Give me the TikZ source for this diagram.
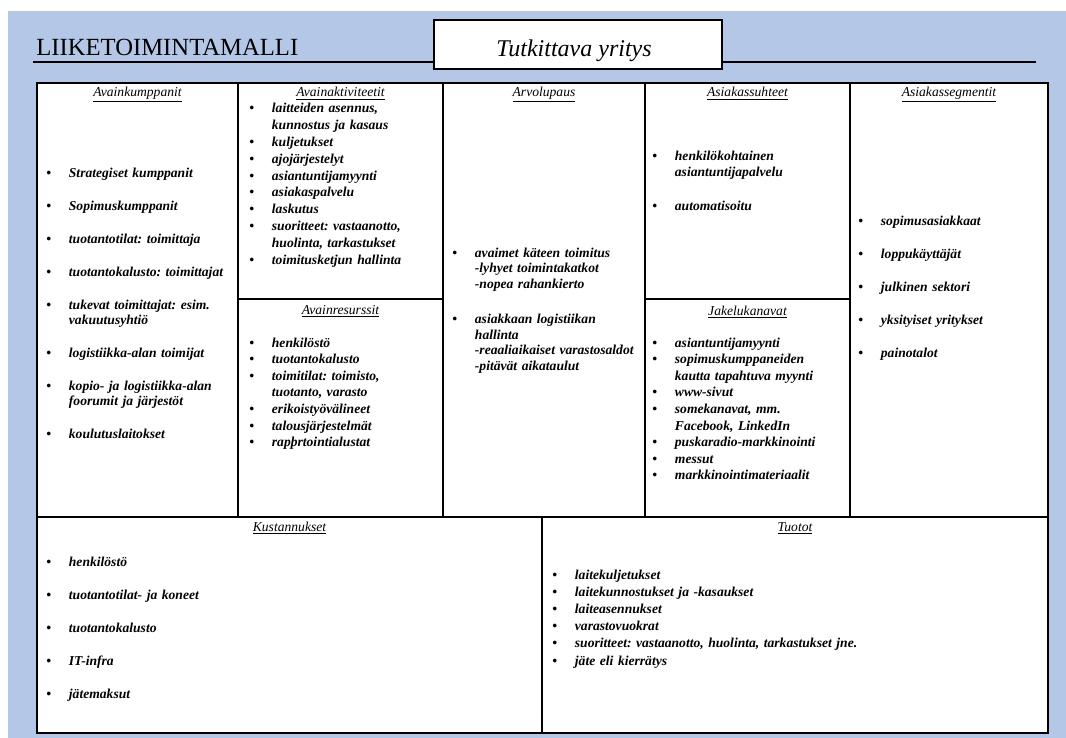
\documentclass[tikz,border=0pt]{standalone}
\usepackage{fontspec}
\setmainfont{Liberation Serif}
\definecolor{bgblue}{RGB}{180,199,231}
\newcommand\bl{\makebox[17pt][l]{\textbullet}}
\newcommand\ind{\hspace*{17pt}}
\frenchspacing
\begin{document}
\begin{tikzpicture}[x=0.75pt,y=-0.75pt,
  frame/.style={line width=1.4pt},
  hdr/.style={anchor=base, inner sep=0pt, font=\fontsize{10.2}{12}\selectfont\itshape\frenchspacing},
  lst/.style={anchor=base west, inner sep=0pt, align=left, text width=260pt,
    font=\fontsize{10.2}{#1}\selectfont\bfseries\itshape\frenchspacing},
]
\useasboundingbox (0,0) rectangle (1066,738);
\fill[bgblue] (8,11) rectangle (1066,738);

% title
\node[anchor=base west, inner sep=0pt, font=\fontsize{18.5}{21}\selectfont] (title) at (36,56) {LIIKETOIMINTAMALLI};
\coordinate (tl) at (33,62);
\coordinate (tr) at (1036,62);
\draw[line width=0.8pt] (tl) -- (tr);
\node[draw, fill=white, line width=0.8pt, minimum width=288*0.75pt, minimum height=49*0.75pt, inner sep=0pt] (firm) at (578,44.5) {};
\node[anchor=base, inner sep=0pt, font=\fontsize{18}{20}\selectfont\itshape] (firmtxt) at (574,57) {Tutkittava yritys};

% grid
\fill[white] (37,83) rectangle (1048,733);
\draw[frame] (37,83) rectangle (1048,733);
\draw[frame] (238,83) -- (238,517);
\draw[frame] (443,83) -- (443,517);
\draw[frame] (645,83) -- (645,517);
\draw[frame] (850,83) -- (850,517);
\draw[frame] (37,517) -- (1048,517);
\draw[frame] (238,299) -- (443,299);
\draw[frame] (645,299) -- (850,299);
\draw[frame] (542,517) -- (542,733);

% headers
\node[hdr] (h1) at (137.5,97) {\underline{Avainkumppanit}};
\node[hdr] (h2) at (340.5,97) {\underline{Avainaktiviteetit}};
\node[hdr] (h3) at (544,97) {\underline{Arvolupaus}};
\node[hdr] (h4) at (747.5,97) {\underline{Asiakassuhteet}};
\node[hdr] (h5) at (949,97) {\underline{Asiakassegmentit}};
\node[hdr] (h6) at (340.5,314) {\underline{Avainresurssit}};
\node[hdr] (h7) at (747.5,315) {\underline{Jakelukanavat}};
\node[hdr] (h8) at (289.5,531) {\underline{Kustannukset}};
\node[hdr] (h9) at (795,531) {\underline{Tuotot}};

% lists
\node[lst=11.6pt] (l1) at (46,177) {%
\bl Strategiset kumppanit\\[13.15pt]
\bl Sopimuskumppanit\\[13.15pt]
\bl tuotantotilat: toimittaja\\[13.15pt]
\bl tuotantokalusto: toimittajat\\[13.15pt]
\bl tukevat toimittajat: esim.\\
\ind vakuutusyhtiö\\[13.15pt]
\bl logistiikka-alan toimijat\\[13.15pt]
\bl kopio- ja logistiikka-alan\\
\ind foorumit ja järjestöt\\[13.15pt]
\bl koulutuslaitokset};

\node[lst=12.6pt] (l2) at (249,113) {%
\bl laitteiden asennus,\\
\ind kunnostus ja kasaus\\
\bl kuljetukset\\
\bl ajojärjestelyt\\
\bl asiantuntijamyynti\\
\bl asiakaspalvelu\\
\bl laskutus\\
\bl suoritteet: vastaanotto,\\
\ind huolinta, tarkastukset\\
\bl toimitusketjun hallinta};

\node[lst=12.45pt] (l3) at (249,347) {%
\bl henkilöstö\\
\bl tuotantokalusto\\
\bl toimitilat: toimisto,\\
\ind tuotanto, varasto\\
\bl erikoistyövälineet\\
\bl talousjärjestelmät\\
\bl rapþrtointialustat};

\node[lst=11.8pt] (l4) at (452,257) {%
\bl avaimet käteen toimitus\\
\ind -lyhyet toimintakatkot\\
\ind -nopea rahankierto\\[14.45pt]
\bl asiakkaan logistiikan\\
\ind hallinta\\
\ind -reaaliaikaiset varastosaldot\\
\ind -pitävät aikataulut};

\node[lst=12pt] (l5) at (652,161) {%
\bl henkilökohtainen\\
\ind asiantuntijapalvelu\\[13.5pt]
\bl automatisoitu};

\node[lst=12.45pt] (l6) at (652,347) {%
\bl asiantuntijamyynti\\
\bl sopimuskumppaneiden\\
\ind kautta tapahtuva myynti\\
\bl www-sivut\\
\bl somekanavat, mm.\\
\ind Facebook, LinkedIn\\
\bl puskaradio-markkinointi\\
\bl messut\\
\bl markkinointimateriaalit};

\node[lst=24.75pt] (l7) at (858,225) {%
\bl sopimusasiakkaat\\
\bl loppukäyttäjät\\
\bl julkinen sektori\\
\bl yksityiset yritykset\\
\bl painotalot};

\node[lst=24.75pt] (l8) at (46,566) {%
\bl henkilöstö\\
\bl tuotantotilat- ja koneet\\
\bl tuotantokalusto\\
\bl IT-infra\\
\bl jätemaksut};

\node[lst=12.9pt] (l9) at (552,579) {%
\bl laitekuljetukset\\
\bl laitekunnostukset ja -kasaukset\\
\bl laiteasennukset\\
\bl varastovuokrat\\
\bl suoritteet: vastaanotto, huolinta, tarkastukset jne.\\
\bl jäte eli kierrätys};
\end{tikzpicture}
\end{document}
